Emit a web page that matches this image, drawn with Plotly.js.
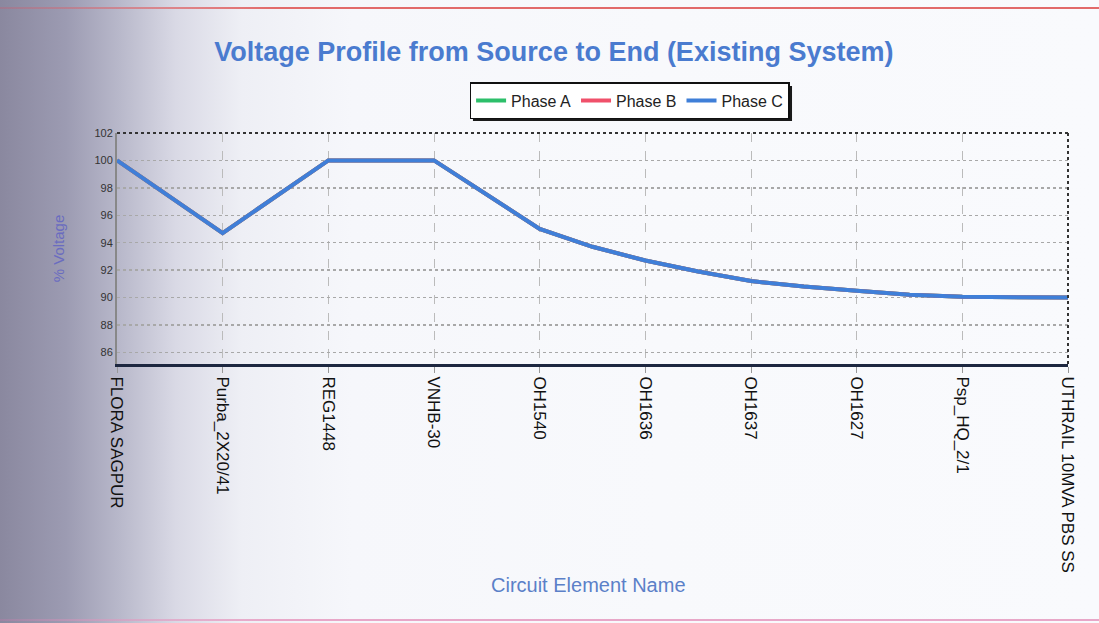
<!DOCTYPE html>
<html>
<head>
<meta charset="utf-8">
<script src="https://cdn.plot.ly/plotly-3.0.1.min.js"></script>
<style>
  html, body { margin: 0; padding: 0; }
  body {
    width: 1099px; height: 623px; overflow: hidden; position: relative;
    background: linear-gradient(to right, #8a889f 0%, #9c9bb2 6%, #b9b9cb 11%, #d9d9e5 16%, #eeeff5 22%, #f6f7fb 32%, #f8f9fc 60%, #f9fafd 100%);
  }
  #edgeTop { position: absolute; left: 0; top: 7px; width: 1099px; height: 2px;
    background: linear-gradient(to right, rgba(200,90,110,0.3), #e26a6a 25%, #e26a6a 100%); }
  #edgeBottom { position: absolute; left: 0; top: 619px; width: 1099px; height: 2px;
    background: linear-gradient(to right, rgba(200,120,170,0.3), #e8a7c8 25%, #e8a7c8 100%); }
  #chart { position: absolute; left: 0; top: 0; width: 1099px; height: 623px; }
</style>
</head>
<body>
<div id="edgeTop"></div>
<div id="edgeBottom"></div>
<div id="chart"></div>
<script>
// Circuit elements along the feeder, source first
const elementNames = ["FLORA SAGPUR", "Purba_2X20/41", "REG1448", "VNHB-30", "OH1540",
                      "OH1636", "OH1637", "OH1627", "Psp_HQ_2/1", "UTHRAIL 10MVA PBS SS"];
const elementPos = [0, 1, 2, 3, 4, 5, 6, 7, 8, 9];

// Position along the profile (named elements plus intermediate sections)
const profilePos = [0, 1, 2, 3, 4, 4.5, 5, 5.5, 6, 6.5, 7, 7.5, 8, 8.5, 9];

// Voltage (%) per phase along the profile
const phaseA = [100, 94.7, 100, 100, 95.0, 93.7, 92.7, 91.9, 91.2, 90.8, 90.5, 90.2, 90.05, 90.0, 90.0];
const phaseB = [100, 94.7, 100, 100, 95.0, 93.7, 92.7, 91.9, 91.2, 90.8, 90.5, 90.2, 90.05, 90.0, 90.0];
const phaseC = [100, 94.7, 100, 100, 95.0, 93.7, 92.7, 91.9, 91.2, 90.8, 90.5, 90.2, 90.05, 90.0, 90.0];

const yTicks = [86, 88, 90, 92, 94, 96, 98, 100, 102];

const font = "Liberation Sans, Arial, sans-serif";

const traces = [
  { name: "Phase A", x: profilePos, y: phaseA, mode: "lines", line: { color: "#2dbf6a", width: 4 } },
  { name: "Phase B", x: profilePos, y: phaseB, mode: "lines", line: { color: "#f0506a", width: 4 } },
  { name: "Phase C", x: profilePos, y: phaseC, mode: "lines", line: { color: "#3f7fd8", width: 4 } }
];

const layout = {
  width: 1099, height: 623,
  paper_bgcolor: "rgba(0,0,0,0)",
  plot_bgcolor: "rgba(0,0,0,0)",
  margin: { l: 117, r: 31, t: 133, b: 259 },
  font: { family: font, color: "#222" },
  showlegend: true,
  title: {
    text: "<b>Voltage Profile from Source to End (Existing System)</b>",
    font: { family: font, size: 27, color: "#4a7bcf" },
    x: 0.504, xref: "container", xanchor: "center",
    y: 0.918, yref: "container", yanchor: "middle"
  },
  legend: {
    orientation: "h",
    x: 0.539, xanchor: "center",
    y: 1.22, yanchor: "top",
    bgcolor: "#ffffff", bordercolor: "#111", borderwidth: 1.5,
    font: { family: font, size: 16, color: "#222" },
    itemwidth: 30, tracegroupgap: 0
  },
  xaxis: {
    type: "linear",
    range: [0, 9],
    tickmode: "array", tickvals: elementPos, ticktext: elementNames,
    tickangle: 90,
    tickfont: { family: font, size: 17, color: "#111" },
    ticks: "outside", ticklen: 6, tickcolor: "#999",
    showgrid: true, gridcolor: "#bbbbbb", griddash: "dash", gridwidth: 1,
    showline: true, linecolor: "#1d2740", linewidth: 3,
    zeroline: false,
    automargin: false
  },
  yaxis: {
    range: [85.15, 102],
    tickmode: "array", tickvals: yTicks,
    tickfont: { family: font, size: 11, color: "#333" },
    ticks: "",
    showgrid: true, gridcolor: "#a8a8a8", griddash: "dot", gridwidth: 1.5,
    showline: true, linecolor: "#888", linewidth: 2,
    zeroline: false,
    title: { text: "% Voltage", font: { family: font, size: 15, color: "#6a6cc0" }, standoff: 26 },
    automargin: false
  },
  annotations: [
    { text: "Circuit Element Name", xref: "paper", yref: "paper",
      x: 0.496, y: -0.957, xanchor: "center", yanchor: "middle", showarrow: false,
      font: { family: font, size: 20, color: "#5b80c8" } }
  ],
  shapes: [
    // dotted frame on the top and right of the plot area
    { type: "line", xref: "paper", yref: "paper", x0: 0, x1: 1, y0: 1, y1: 1,
      line: { color: "#333", width: 2, dash: "dot" }, layer: "above" },
    { type: "line", xref: "paper", yref: "paper", x0: 1, x1: 1, y0: 0, y1: 1,
      line: { color: "#333", width: 2, dash: "dot" }, layer: "above" },
    // drop shadow behind the legend box
    { type: "rect", xref: "paper", yref: "paper", x0: 0.3743, x1: 0.7098, y0: 1.052, y1: 1.2035,
      fillcolor: "#1a1a1a", line: { width: 0 }, layer: "above" }
  ]
};

Plotly.newPlot("chart", traces, layout, { staticPlot: true, displayModeBar: false });
</script>
</body>
</html>
